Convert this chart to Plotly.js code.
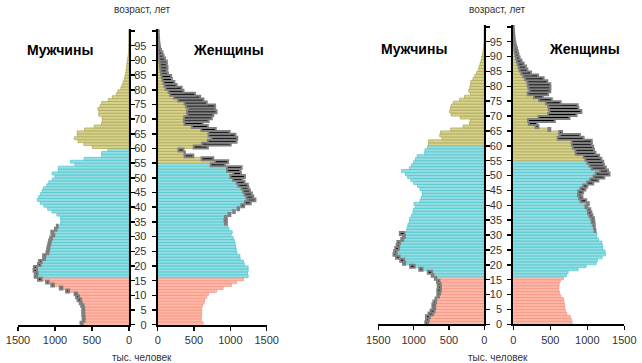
<!DOCTYPE html>
<html><head><meta charset="utf-8">
<script src="https://cdn.plot.ly/plotly-3.0.1.min.js"></script>
<style>html,body{margin:0;padding:0;background:#fff}#chart{width:642px;height:363px}</style>
</head><body><div id="chart"></div>
<script>
// age categories 0..100
const ages = [0,1,2,3,4,5,6,7,8,9,10,11,12,13,14,15,16,17,18,19,20,21,22,23,24,25,26,27,28,29,30,31,32,33,34,35,36,37,38,39,40,41,42,43,44,45,46,47,48,49,50,51,52,53,54,55,56,57,58,59,60,61,62,63,64,65,66,67,68,69,70,71,72,73,74,75,76,77,78,79,80,81,82,83,84,85,86,87,88,89,90,91,92,93,94,95,96,97,98,99,100];
const ageTickVals = [0,5,10,15,20,25,30,35,40,45,50,55,60,65,70,75,80,85,90,95,100];
const ageTickText = ['0','5','10','15','20','25','30','35','40','45','50','55','60','65','70','75','80','85','90','95',''];
const popTickVals = [0,500,1000,1500];
const popTickText = ['0','500','1000','1500'];

// left pyramid, thousand persons
const menA = [655,625,625,630,630,630,645,665,695,715, 735,850,935,1050,1120,1230,1275,1270,1290,1285, 1230,1215,1160,1160,1115,1105,1100,1090,1080,1065, 1040,1050,1000,975,925,920,925,975,1040,1100, 1150,1200,1240,1220,1195,1175,1155,1110,1085,1035, 1000,1040,955,955,730,790,605,370,370,285, 496,610,690,740,700,700,600,470,370,360, 365,410,405,420,390,370,280,225,170,150, 110,95,80,65,55,45,40,35,30,25, 18,12,8,5,3,2,1,1,0,0, 0];
const womenA = [625,600,600,605,605,605,615,640,650,675, 700,810,900,1015,1085,1180,1245,1235,1245,1245, 1195,1180,1135,1130,1090,1080,1075,1065,1055,1040, 1010,1025,980,965,950,950,950,1000,1060,1120, 1190,1280,1345,1315,1295,1270,1250,1240,1195,1165, 1200,1145,1135,1155,925,970,765,490,375,355, 690,1005,1085,1095,1070,990,800,690,620,700, 745,765,810,790,790,675,630,585,515,355, 330,260,230,195,185,140,125,135,125,125, 100,80,65,46,32,25,20,18,15,12, 10];
// right pyramid
const menB = [835,825,825,790,760,730,735,720,690,665, 660,665,655,660,670,700,745,800,920,1050, 1150,1190,1250,1285,1275,1260,1240,1230,1175,1150, 1195,1100,1090,1080,1060,1055,1030,1010,1005,975, 995,910,890,875,878,910,945,1000,1040,1085, 1115,1170,1060,1030,1000,975,950,845,840,805, 790,790,600,630,620,475,300,210,200,340, 470,490,480,470,440,350,280,195,220,205, 195,190,160,135,110,85,75,60,47,38, 28,20,14,10,6,4,2,1,1,0, 0];
const womenB = [795,785,770,725,705,695,695,685,680,640, 625,615,615,620,635,680,720,740,875,985, 1120,1135,1200,1245,1240,1210,1205,1195,1150,1125, 1130,1110,1100,1100,1095,1090,1070,1055,1040,1000, 1020,985,935,920,945,975,1000,1080,1150,1230, 1300,1280,1250,1225,1215,1190,1160,1110,1090,1080, 1060,1060,950,900,660,500,340,320,560,760, 855,920,880,870,640,520,400,470,500,500, 500,460,410,335,240,190,170,140,110,85, 70,60,50,38,28,20,15,12,10,7, 5];

const childMaxAge = 15, menWorkMaxAge = 59, womenWorkMaxAge = 54;
const COL = {
  pink:  {fill:'#ffb8a8', line:'#f3927f'},
  cyan:  {fill:'#98dde2', line:'#45c7ce'},
  olive: {fill:'#d8d38a', line:'#aba45a'}
};
function group(a, workMax){ return a<=childMaxAge ? 'pink' : (a<=workMax ? 'cyan' : 'olive'); }

function panel(own, other, workMax, xa, ya){
  const y = ages.map(a=>a+0.5);
  const common = own.map((v,i)=>Math.min(v, other[i]));
  const g = ages.map(a=>group(a, workMax));
  const bars = {type:'bar', orientation:'h', x:common, y:y, width:1, xaxis:xa, yaxis:ya,
    marker:{color:g.map(k=>COL[k].fill), line:{color:g.map(k=>COL[k].line), width:0.7}},
    hoverinfo:'skip', showlegend:false};
  const exc = own.map((v,i)=> v>other[i] ? v-other[i] : null);
  const excess = {type:'bar', orientation:'h', x:exc, base:common, y:y, width:1, xaxis:xa, yaxis:ya,
    marker:{color:'#000', line:{color:'#808080', width:2}}, hoverinfo:'skip', showlegend:false};
  return [bars, excess];
}
const pA_m = panel(menA, womenA, menWorkMaxAge, 'x', 'y');
const pA_w = panel(womenA, menA, womenWorkMaxAge, 'x2', 'y2');
const pB_m = panel(menB, womenB, menWorkMaxAge, 'x3', 'y3');
const pB_w = panel(womenB, menB, womenWorkMaxAge, 'x4', 'y4');
const data = [pA_m[0], pA_w[0], pB_m[0], pB_w[0], pA_m[1], pA_w[1], pB_m[1], pB_w[1]];

const W = 642, H = 363;
const FONT = 'Liberation Sans, Arial, sans-serif';
function xax(d0, d1, reversed, anchor){
  return {domain:[d0/W, d1/W], range: reversed ? [1500,0] : [0,1500], anchor:anchor,
    tickvals:popTickVals, ticktext:popTickText, ticks:'outside', ticklen:4, tickwidth:1.5, tickcolor:'#000',
    showline:true, linewidth:2, linecolor:'#000', showgrid:false, zeroline:false, fixedrange:true,
    tickfont:{family:FONT, size:11, color:'#333'}};
}
function yax(bottom, top, rng, anchor, side, labels){
  return {domain:[(H-bottom)/H, (H-top)/H], range:[0,rng], anchor:anchor, side:side,
    tickvals:ageTickVals, ticktext:ageTickText, ticks:'outside', ticklen:4, tickwidth:1.5, tickcolor:'#000',
    showticklabels:labels, ticklabelstandoff:3,
    showline:true, linewidth:2, linecolor:'#000', showgrid:false, zeroline:false, fixedrange:true,
    tickfont:{family:FONT, size:11, color:'#333'}};
}
function ann(text, px, py, size, color){
  return {text:text, xref:'paper', yref:'paper', x:px/W, y:(H-py)/H, xanchor:'center', yanchor:'middle',
    showarrow:false, font:{family:FONT, size:size, color:color}};
}
const layout = {
  width:W, height:H, margin:{l:0,r:0,t:0,b:0}, paper_bgcolor:'#fff', plot_bgcolor:'rgba(0,0,0,0)',
  barmode:'overlay', showlegend:false, font:{family:FONT},
  xaxis: xax(18, 129, true, 'y'),
  yaxis: yax(324.7, 29, 100.7, 'x', 'right', false),
  xaxis2: xax(157.7, 266.7, false, 'y2'),
  yaxis2: yax(324.7, 29, 100.7, 'x2', 'left', true),
  xaxis3: xax(378.3, 484.3, true, 'y3'),
  yaxis3: yax(324.3, 25, 100.6, 'x3', 'right', false),
  xaxis4: xax(513.3, 624.3, false, 'y4'),
  yaxis4: yax(324.3, 25, 100.6, 'x4', 'left', true),
  annotations:[
    ann('возраст, лет', 142, 10, 10, '#333'),
    ann('возраст, лет', 497, 10, 10, '#333'),
    ann('тыс. человек', 142, 357, 10, '#333'),
    ann('тыс. человек', 498, 357, 10, '#333'),
    ann('<b>Мужчины</b>', 60, 50, 14, '#000'),
    ann('<b>Женщины</b>', 228, 50, 14, '#000'),
    ann('<b>Мужчины</b>', 414, 49, 14, '#000'),
    ann('<b>Женщины</b>', 584, 49, 14, '#000')
  ]
};
Plotly.newPlot('chart', data, layout, {staticPlot:true, displayModeBar:false});
</script></body></html>
